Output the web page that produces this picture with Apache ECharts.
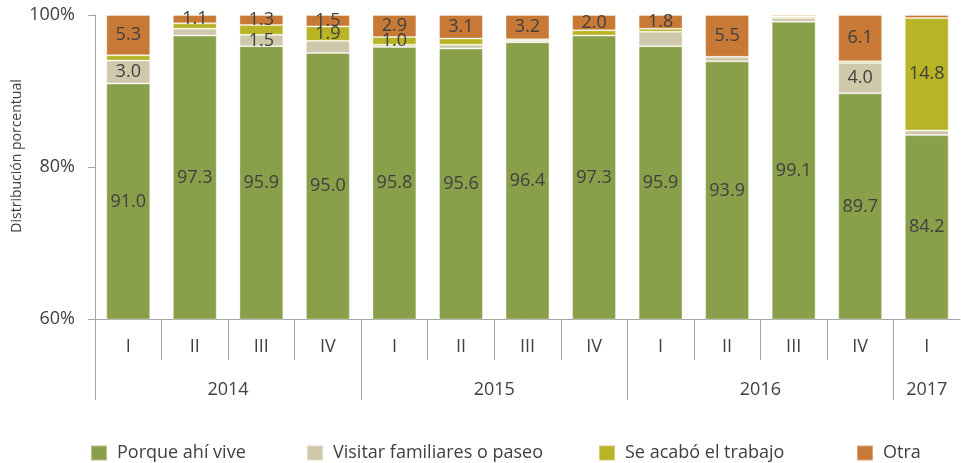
<!DOCTYPE html>
<html>
<head>
<meta charset="utf-8">
<script src="https://cdn.jsdelivr.net/npm/echarts@6/dist/echarts.min.js"></script>
<style>
  html, body { margin: 0; padding: 0; background: #fff; }
  #chart { width: 961px; height: 463px; }
</style>
</head>
<body>
<div id="chart"></div>
<script>
// datos
const quarters = ['I', 'II', 'III', 'IV', 'I', 'II', 'III', 'IV', 'I', 'II', 'III', 'IV', 'I']
const years = ['2014', '2015', '2016', '2017']
const yearSizes = [4, 4, 4, 1]

const viveData = [91.0, 97.3, 95.9, 95.0, 95.8, 95.6, 96.4, 97.3, 95.9, 93.9, 99.1, 89.7, 84.2]
const visitarData = [3.0, 0.9, 1.5, 1.6, 0.3, 0.5, 0.2, 0.0, 1.9, 0.6, 0.5, 4.0, 0.6]
const trabajoData = [0.7, 0.7, 1.3, 1.9, 1.0, 0.8, 0.2, 0.7, 0.4, 0.0, 0.2, 0.2, 14.8]
const otraData = [5.3, 1.1, 1.3, 1.5, 2.9, 3.1, 3.2, 2.0, 1.8, 5.5, 0.2, 6.1, 0.4]

// which bars carry a value label (1 = show)
const viveLabels = [1, 1, 1, 1, 1, 1, 1, 1, 1, 1, 1, 1, 1]
const visitarLabels = [1, 0, 1, 0, 0, 0, 0, 0, 0, 0, 0, 1, 0]
const trabajoLabels = [0, 0, 0, 1, 1, 0, 0, 0, 0, 0, 0, 0, 1]
const otraLabels = [1, 1, 1, 1, 1, 1, 1, 1, 1, 1, 0, 1, 0]

const font = '"Open Sans", sans-serif'
const textColor = '#404040'
const lineColor = '#A6A6A6'

// limites de grupos (años) y centros para etiquetas
const yearBounds = []
const yearCenters = []
const quarterBounds = []
let acc = 0
yearSizes.forEach((n) => {
  yearBounds.push(acc)
  yearCenters.push(acc + n / 2)
  for (let k = 1; k < n; k++) quarterBounds.push(acc + k)
  acc += n
})

const chartInstance = echarts.init(document.getElementById('chart'))

const makeSeries = (name, data, labels, color) => ({
  name: name,
  type: 'bar',
  stack: 'total',
  barCategoryGap: '34%',
  itemStyle: { color: color, borderColor: 'rgba(255,255,255,0.35)', borderWidth: 1 },
  label: {
    position: 'inside',
    color: textColor,
    fontFamily: font,
    fontSize: 18,
    formatter: (p) => p.value.toFixed(1),
  },
  data: data.map((v, i) => ({ value: v, label: { show: !!labels[i] } })),
})

const legendItem = (name, left) => ({
  data: [name],
  left: left,
  top: 439,
  itemWidth: 16,
  itemHeight: 15,
  icon: 'rect',
  selectedMode: false,
  textStyle: { color: textColor, fontFamily: font, fontSize: 18, padding: [0, 0, 0, 5] },
})

const chartSet = {
  animation: false,
  grid: { left: 95, right: 1, top: 15, bottom: 144, containLabel: false, outerBoundsMode: 'none' },
  graphic: [
    {
      type: 'text',
      x: 17,
      y: 156,
      rotation: Math.PI / 2,
      style: {
        text: 'Distribución porcentual',
        fill: textColor,
        font: '14px "Open Sans", sans-serif',
        align: 'center',
        verticalAlign: 'middle',
      },
    },
  ],
  legend: [
    legendItem('Porque ahí vive', 85),
    legendItem('Visitar familiares o paseo', 301),
    legendItem('Se acabó el trabajo', 593),
    legendItem('Otra', 851),
  ],
  xAxis: [
    {
      type: 'category',
      data: quarters,
      axisLine: { lineStyle: { color: lineColor, width: 1 } },
      axisTick: { show: false },
      axisLabel: { color: textColor, fontFamily: font, fontSize: 18, margin: 19 },
    },
    {
      type: 'value',
      min: 0,
      max: quarters.length,
      position: 'bottom',
      axisLine: { show: false },
      splitLine: { show: false },
      axisLabel: { show: false },
      axisTick: { show: true, customValues: quarterBounds, length: 41, lineStyle: { color: lineColor } },
    },
    {
      type: 'value',
      min: 0,
      max: quarters.length,
      position: 'bottom',
      axisLine: { show: false },
      splitLine: { show: false },
      axisTick: { show: true, customValues: yearBounds, length: 81, lineStyle: { color: lineColor } },
      axisLabel: {
        customValues: yearCenters,
        formatter: (v) => years[yearCenters.indexOf(v)] || '',
        color: textColor,
        fontFamily: font,
        fontSize: 18,
        margin: 62,
      },
    },
  ],
  yAxis: {
    type: 'value',
    min: 60,
    max: 100,
    interval: 20,
    axisLine: { show: true, lineStyle: { color: lineColor } },
    axisTick: { show: true, length: 7, lineStyle: { color: lineColor } },
    splitLine: { show: false },
    axisLabel: { color: textColor, fontFamily: font, fontSize: 18, margin: 20, formatter: '{value}%' },
  },
  series: [
    makeSeries('Porque ahí vive', viveData, viveLabels, '#8A9F4A'),
    makeSeries('Visitar familiares o paseo', visitarData, visitarLabels, '#D0C8AA'),
    makeSeries('Se acabó el trabajo', trabajoData, trabajoLabels, '#B8B425'),
    makeSeries('Otra', otraData, otraLabels, '#C87935'),
  ],
}

chartInstance.setOption(chartSet)
</script>
</body>
</html>
